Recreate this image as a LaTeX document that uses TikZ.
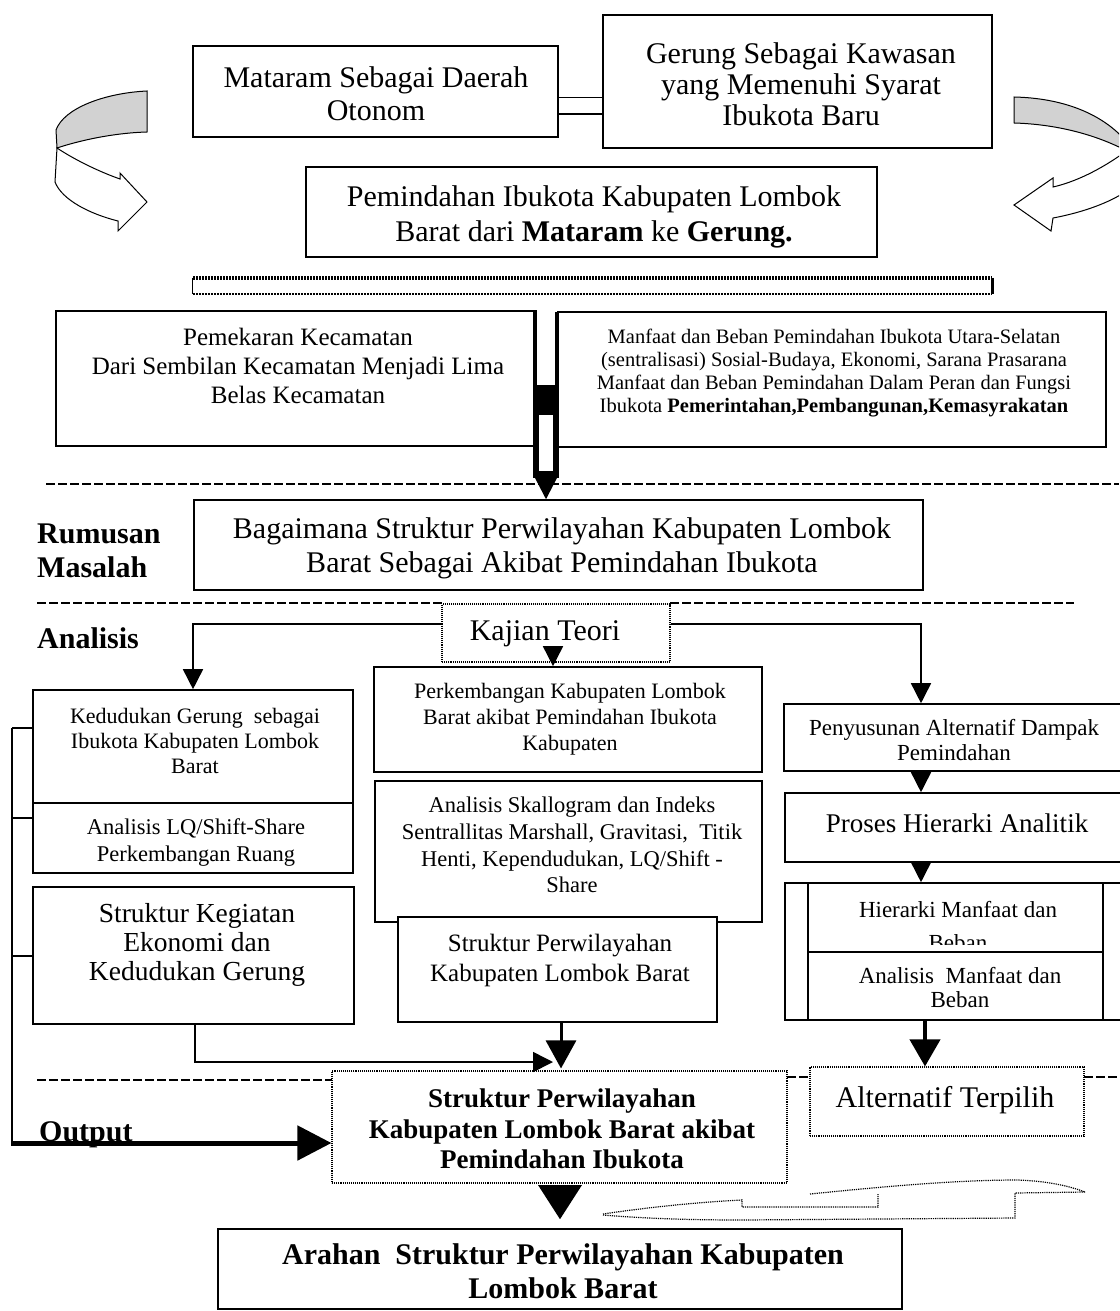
\documentclass[tikz,border=0pt]{standalone}
\usepackage{fontspec}
\setmainfont{Liberation Serif}
\usetikzlibrary{arrows.meta,fit,calc}
\newcommand\myfs[2]{\fontsize{#1pt}{#2pt}\selectfont}
\begin{document}
\begin{tikzpicture}[x=1pt,y=-1pt,
 box/.style={draw,line width=1.6pt,inner sep=0pt},
 dbox/.style={draw,line width=1.1pt,densely dotted,inner sep=0pt},
 txt/.style={inner sep=0pt,align=center},
 lab/.style={inner sep=0pt,align=left,font=\bfseries\myfs{30}{34}},
 dline/.style={line width=1.6pt,dash pattern=on 9pt off 3pt},
 arr/.style={line width=1.6pt,-{Triangle[width=20pt,length=20pt]}},
 ribbon/.style={line width=1pt,fill=gray!35},
 wavy/.style={densely dotted,line width=1.2pt},
 barline/.style={dash pattern=on 2pt off 1pt},
]
\fill[white] (0,0) rectangle (1119,1311);
\useasboundingbox (0,0) rectangle (1119,1311);

% ---- curved arrows at the top ----
\filldraw[ribbon] (147,91) .. controls (105,93) and (64,108) .. (56,130) -- (57,148) .. controls (78,141) and (112,133) .. (147,132) -- cycle;
\filldraw[line width=1pt,fill=white] (57,148) .. controls (75,160) and (100,172) .. (120,179) -- (120,173) -- (147,202) -- (118,231) -- (118,221) .. controls (90,214) and (62,200) .. (55,182) -- cycle;
\begin{scope}
\clip (0,0) rectangle (1119,1311);
\filldraw[ribbon] (1014,97) .. controls (1060,98) and (1100,112) .. (1125,140) -- (1125,150) .. controls (1090,132) and (1050,124) .. (1014,123) -- cycle;
\filldraw[line width=1pt,fill=white] (1125,152) .. controls (1100,170) and (1075,182) .. (1053,187) -- (1053,178) -- (1014,205) -- (1051,231) -- (1053,218) .. controls (1085,212) and (1110,202) .. (1125,192) -- cycle;
\end{scope}

% ---- top boxes ----
\node[box,fit={(193,46)(558,137)}] (mat) {};
\node[txt,font=\myfs{30}{33}] (matT) at (376,94) {Mataram Sebagai Daerah\\Otonom};
\node[box,fit={(603,15)(992,148)}] (ger) {};
\node[txt,font=\myfs{30}{31}] (gerT) at (801,84) {Gerung Sebagai Kawasan\\yang Memenuhi Syarat\\Ibukota Baru};
\draw[line width=1.3pt,double distance=15pt] ($(mat.east)+(0,14.5)$) -- ($(ger.west|-mat.east)+(0,14.5)$);

\node[box,fit={(306,167)(877,257)}] (pem) {};
\node[txt,font=\myfs{30}{35}] (pemT) at (594,217) {Pemindahan Ibukota Kabupaten Lombok\\Barat dari \textbf{Mataram} ke \textbf{Gerung.}};

% bar
\node[inner sep=0pt,fit={(193,278)(992,294)}] (bar) {};
\draw[line width=3.5pt,barline] (bar.north west) -- (bar.north east);
\draw[line width=2.2pt,barline] (bar.south west) -- (bar.south east);
\draw[line width=1pt] (bar.north west) -- (bar.south west);
\draw[line width=3pt] (bar.north east) -- (bar.south east);

% ---- second row ----
\node[box,fit={(56,311)(536,446)}] (pek) {};
\node[txt,font=\myfs{25}{29}] (pekT) at (298,366) {Pemekaran Kecamatan\\Dari Sembilan Kecamatan Menjadi Lima\\Belas Kecamatan};
\node[box,fit={(558,312)(1106,447)}] (man) {};
\node[txt,font=\myfs{20.5}{23}] (manT) at (834,373) {Manfaat dan Beban Pemindahan Ibukota Utara-Selatan\\(sentralisasi) Sosial-Budaya, Ekonomi, Sarana Prasarana\\Manfaat dan Beban Pemindahan Dalam Peran dan Fungsi\\Ibukota \textbf{Pemerintahan,Pembangunan,Kemasyrakatan}};

% ---- dashed separators ----
\draw[dline] (46,484) -- (1119,484);
\draw[dline] (37,603) -- (442,603);
\draw[dline] (670,603) -- (1074,603);
\draw[dline] (37,1080) -- (332,1080);
\draw[dline] (787,1077) -- (810,1077);
\draw[dline] (1084,1077) -- (1119,1077);

% ---- Rumusan ----
\node[box,fit={(194,500)(923,590)}] (bag) {};
\node[txt,font=\myfs{30}{34}] (bagT) at (562,548) {Bagaimana Struktur Perwilayahan Kabupaten Lombok\\Barat Sebagai Akibat Pemindahan Ibukota};

% central hollow arrow
\fill (533,385) rectangle (559,478);
\fill[white] (539,415) rectangle (553,471);
\draw[line width=4pt] (535,311) -- (535,385);
\draw[line width=4pt] (557,312) -- (557,385);
\coordinate (cs) at (546,476);
\fill ($(cs)+(-12,0)$) -- ($(cs)+(12,0)$) -- (cs|-bag.north) -- cycle;

% labels
\node[lab,anchor=west] (rum) at (37,551) {Rumusan\\Masalah};
\node[lab,anchor=base west] (ana) at (37,648) {Analisis};
\node[lab,anchor=base west] (oup) at (39,1141) {Output};

% ---- Analisis ----
\node[dbox,fit={(442,604)(670,662)}] (kaj) {};
\node[txt,font=\myfs{30}{34},anchor=base] (kajT) at (545,640) {Kajian Teori};

\node[box,fit={(33,690)(353,873)}] (ked) {};
\coordinate (kd) at (33,803);
\draw[line width=1.6pt] (kd) -- (kd-|ked.east);
\node[txt,font=\myfs{22}{25}] (kedT) at (195,741) {Kedudukan Gerung~ sebagai\\Ibukota Kabupaten Lombok\\Barat};
\node[txt,font=\myfs{22.5}{27}] (kedB) at (196,842) {Analisis LQ/Shift-Share\\Perkembangan Ruang};

\node[box,fit={(33,887)(354,1024)}] (keg) {};
\node[txt,font=\myfs{27.5}{29}] (kegT) at (197,945) {Struktur Kegiatan\\Ekonomi dan\\Kedudukan Gerung};

\node[box,fit={(374,667)(762,772)}] (per) {};
\node[txt,font=\myfs{22}{26}] (perT) at (570,719) {Perkembangan Kabupaten Lombok\\Barat akibat Pemindahan Ibukota\\Kabupaten};
\node[box,fit={(375,781)(762,922)}] (ska) {};
\node[txt,font=\myfs{22.5}{26.7}] (skaT) at (572,845) {Analisis Skallogram dan Indeks\\Sentrallitas Marshall, Gravitasi,~ Titik\\Henti, Kependudukan, LQ/Shift -\\Share};
\node[box,fill=white,fit={(398,917)(717,1022)}] (sp) {};
\node[txt,font=\myfs{25}{30}] (spT) at (560,960) {Struktur Perwilayahan\\Kabupaten Lombok Barat};

\node[box,fit={(784,704)(1125,771)}] (pen) {};
\node[txt,font=\myfs{23}{25}] (penT) at (954,740) {Penyusunan Alternatif Dampak\\Pemindahan};
\node[box,fit={(785,793)(1125,862)}] (pro) {};
\node[txt,font=\myfs{27}{30},anchor=base] (proT) at (957,832) {Proses Hierarki Analitik};
\node[box,fit={(785,883)(1125,1020)}] (frm) {};
\node[box,fit={(808,883)(1103,1020)}] (inn) {};
\coordinate (fd) at (808,952);
\draw[line width=1.6pt] (fd) -- (fd-|inn.east);
\begin{scope}
\clip (808,883) rectangle (1103,944);
\node[txt,font=\myfs{23}{33}] (hieT) at (958,926) {Hierarki Manfaat dan\\Beban};
\end{scope}
\node[txt,font=\myfs{23}{24}] (amT) at (960,988) {Analisis~ Manfaat dan\\Beban};

% ---- Output ----
\node[dbox,fit={(332,1071)(787,1183)}] (out) {};
\node[txt,font=\bfseries\myfs{27}{30.5}] (outT) at (562,1129) {Struktur Perwilayahan\\Kabupaten Lombok Barat akibat\\Pemindahan Ibukota};
\node[dbox,fit={(810,1067)(1084,1136)}] (alt) {};
\node[txt,font=\myfs{30}{34},anchor=base] (altT) at (945,1107) {Alternatif Terpilih};

\node[box,fit={(218,1229)(902,1309)}] (arh) {};
\node[txt,font=\bfseries\myfs{30}{34}] (arhT) at (563,1271) {Arahan~ Struktur Perwilayahan Kabupaten\\Lombok Barat};

% ---- connectors ----
\coordinate (kl) at (193,624);
\coordinate (kr) at (921,624);
\coordinate (km) at (553,662);
\draw[arr] (kaj.west|-kl) -- (kl) -- (kl|-ked.north);
\draw[arr] (kaj.east|-kr) -- (kr) -- (kr|-pen.north);
\draw[arr] (km) -- (km|-per.north);
\draw[arr] (pen.south-|kr) -- (pro.north-|kr);
\draw[arr] (pro.south-|kr) -- (frm.north-|kr);

\coordinate (ka) at (925,1040);
\draw[line width=4pt,-{Triangle[width=30pt,length=27pt]}] (frm.south-|ka) -- (alt.north-|ka);

\coordinate (ke) at (195,1062);
\coordinate (cm) at (561,1040);
\draw[arr] (keg.south-|ke) -- (ke) -- ($(ke-|cm)+(-8,0)$);
\draw[line width=3pt,-{Triangle[width=30pt,length=28pt]}] (sp.south-|cm) -- ($(out.north-|cm)+(0,-2)$);

% left bracket and output arrow
\coordinate (t1) at (12,728);
\coordinate (t2) at (12,818);
\coordinate (t3) at (12,956);
\coordinate (ob) at (12,1143);
\draw[line width=2pt] (t1) -- (ob);
\draw[line width=1.6pt] (t1) -- (t1-|ked.west);
\draw[line width=1.6pt] (t2) -- (t2-|ked.west);
\draw[line width=1.6pt] (t3) -- (t3-|keg.west);
\draw[line width=5pt,-{Triangle[width=34pt,length=34pt]}] ($(ob)+(-1,0)$) -- (ob-|out.west);

% big triangle to Arahan
\coordinate (bt) at (560,1185);
\fill ($(bt)+(-22,0)$) -- ($(bt)+(22,0)$) -- ($(bt|-arh.north)+(0,-9)$) -- cycle;

% dotted curved arrow (bottom right)
\draw[wavy] (603,1214) .. controls (650,1207) and (700,1202) .. (742,1200) -- (742,1207) -- (878,1207) -- (878,1194);
\draw[wavy] (810,1194) .. controls (870,1188) and (950,1180) .. (1017,1180) .. controls (1050,1181) and (1072,1187) .. (1085,1192);
\draw[wavy] (603,1215) .. controls (650,1219) and (700,1220) .. (742,1220) -- (1015,1218) -- (1015,1193) -- (1085,1192);
\end{tikzpicture}
\end{document}
